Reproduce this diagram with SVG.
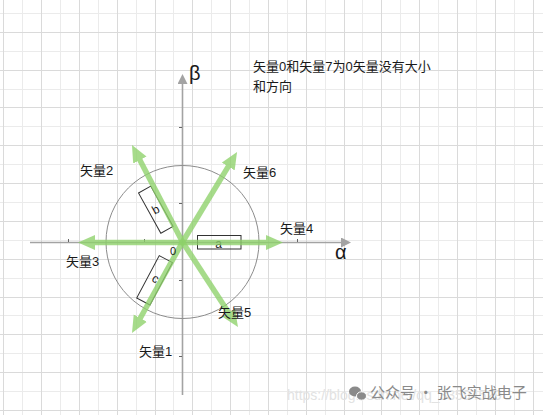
<svg xmlns="http://www.w3.org/2000/svg" width="543" height="415" viewBox="0 0 543 415">
<style>
.gd{stroke:#dadada;stroke-width:1;fill:none}
.gl{stroke:#ebebeb;stroke-width:1;fill:none}
.ax{stroke:#a3a3a3;stroke-width:1.6;fill:none}
.tk{stroke:#666;stroke-width:1;fill:none}
.vec{stroke:#8ed26a;stroke-width:5.5;fill:none;marker-end:url(#gh)}
.vg{opacity:0.78}
.box{fill:none;stroke:#333;stroke-width:1}
.t{font-family:"Liberation Sans","Noto Sans CJK SC",sans-serif;fill:#1a1a1a}
.lbl{font-size:13px}
.cj{font-family:"Noto Sans CJK SC","Liberation Sans",sans-serif}
</style>
<defs>
<marker id="gh" markerUnits="userSpaceOnUse" viewBox="0 -8 17 16" markerWidth="17" markerHeight="16" refX="9" refY="0" orient="auto">
<path d="M0,-7.5 L17,0 L0,7.5 z" fill="#8ed26a"/>
</marker>
<marker id="ah" markerUnits="userSpaceOnUse" viewBox="0 -5 10 10" markerWidth="10" markerHeight="10" refX="2" refY="0" orient="auto">
<path d="M0,-5 L10,0 L0,5 z" fill="#a3a3a3"/>
</marker>
</defs>
<rect width="543" height="415" fill="#ffffff"/>
<g id="grid">
<path class="gl" d="M22.5,0V415M60.5,0V415M98.5,0V415M136.5,0V415M173.5,0V415M211.5,0V415M249.5,0V415M287.5,0V415M325.5,0V415M362.5,0V415M400.5,0V415M438.5,0V415M476.5,0V415M514.5,0V415M0,13.5H543M0,51.5H543M0,89.5H543M0,126.5H543M0,164.5H543M0,202.5H543M0,240.5H543M0,278.5H543M0,315.5H543M0,353.5H543M0,391.5H543"/>
<path class="gd" d="M3.5,0V415M41.5,0V415M79.5,0V415M117.5,0V415M155.5,0V415M192.5,0V415M230.5,0V415M268.5,0V415M306.5,0V415M344.5,0V415M381.5,0V415M419.5,0V415M457.5,0V415M495.5,0V415M533.5,0V415M0,32.5H543M0,70.5H543M0,107.5H543M0,145.5H543M0,183.5H543M0,221.5H543M0,259.5H543M0,297.5H543M0,334.5H543M0,372.5H543M0,410.5H543"/>
</g>
<g id="watermark">
<text x="287" y="400" font-family="Liberation Sans, sans-serif" font-size="14" fill="#e2e2e2">https://blog.csdn.net/qq_33594529</text>
<ellipse cx="355" cy="391.5" rx="6" ry="5" fill="#8a8a8a"/>
<ellipse cx="361.5" cy="396" rx="5" ry="4.2" fill="#8a8a8a" stroke="#ffffff" stroke-width="1"/>
<text x="370" y="398" class="cj" font-size="15" fill="#8a8a8a">公众号 · 张飞实战电子</text>
</g>
<g id="axes">
<path class="ax" d="M30,242.5H343" marker-end="url(#ah)"/>
<path class="ax" d="M182.5,395V82" marker-end="url(#ah)"/>
<path class="tk" d="M68.5,239V242M144.5,239V242M297.5,239V242M179,127.5H182M179,203.5H182M179,280.5H182M179,356.5H182"/>
</g>
<g id="circle"><circle cx="182.5" cy="242" r="76.5" fill="none" stroke="#8c8c8c" stroke-width="1"/></g>
<g id="box-a"><rect class="box" x="197.5" y="235.5" width="43.5" height="13.5"/><text class="t" x="218.5" y="247.5" font-size="12" text-anchor="middle">a</text></g>
<g id="box-b" transform="translate(155.8,209.7) rotate(-29)"><rect class="box" x="-7" y="-23" width="14" height="46"/><text class="t" x="0" y="4" font-size="12" text-anchor="middle">b</text></g>
<g id="box-c" transform="translate(154.6,280.3) rotate(28)"><rect class="box" x="-7.5" y="-24" width="15" height="48"/><text class="t" x="0" y="2" font-size="12" text-anchor="middle">c</text></g>
<g id="connectors">
<g id="vector4" class="vg"><path class="vec" d="M182.5,242.5L275,242.5"/></g>
<g id="vector3" class="vg"><path class="vec" d="M182.5,242.5L86,242.5"/></g>
<g id="vector6" class="vg"><path class="vec" d="M182.5,242L232.9,158.8"/></g>
<g id="vector2" class="vg"><path class="vec" d="M182.5,242L135.7,152.1"/></g>
<g id="vector1" class="vg"><path class="vec" d="M182.5,242L135.9,326"/></g>
<g id="vector5" class="vg"><path class="vec" d="M182.5,242L233.6,320.3"/></g>
</g>
<g id="labels">
<text class="t lbl" x="80" y="175">矢量2</text>
<text class="t lbl" x="243" y="177">矢量6</text>
<text class="t lbl" x="280" y="233">矢量4</text>
<text class="t lbl" x="66" y="266">矢量3</text>
<text class="t lbl" x="218" y="317">矢量5</text>
<text class="t lbl" x="139" y="356">矢量1</text>
<text class="t" x="170" y="254.5" font-size="11">0</text>
<text class="t" x="189" y="80" font-size="20">β</text>
<text class="t" x="335" y="258.5" font-size="20">α</text>
<text class="t lbl" x="253" y="71">矢量0和矢量7为0矢量没有大小</text>
<text class="t lbl" x="253" y="91">和方向</text>
</g>
</svg>
